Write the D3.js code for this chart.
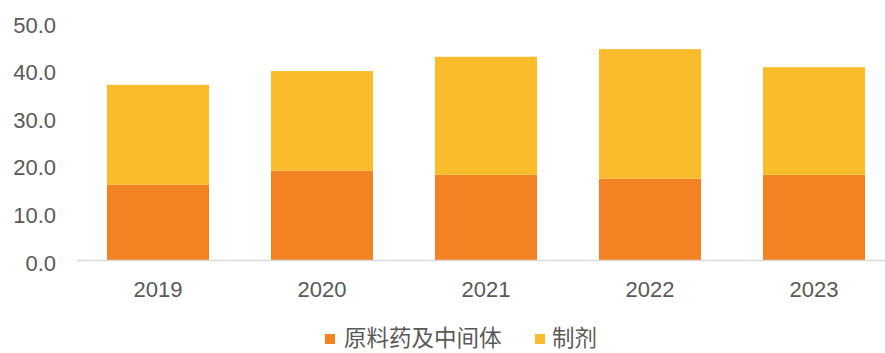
<!DOCTYPE html>
<html>
<head>
<meta charset="utf-8">
<script src="https://cdn.jsdelivr.net/npm/d3@7"></script>
<style>
  html, body { margin: 0; padding: 0; background: #fff; }
  svg { display: block; }
  text { fill: #595959; }
</style>
</head>
<body>
<svg id="chart" width="885" height="353"></svg>
<script>
// Years on the category axis
const years = ["2019", "2020", "2021", "2022", "2023"];
// 原料药及中间体 (API & intermediates)
const apiValues = [15.9, 18.9, 18.0, 17.2, 18.0];
// 制剂 (formulations)
const prepValues = [21.0, 20.9, 24.8, 27.2, 22.6];
// Series names and y tick values
const seriesNames = ["原料药及中间体", "制剂"];
const seriesColors = ["#F38322", "#FABC2A"];
const yTicks = [0, 10, 20, 30, 40, 50];

const svg = d3.select("#chart");
const numFont = "'Liberation Sans', Arial, sans-serif";
const cjkFont = "'Noto Sans CJK SC', 'Liberation Sans', sans-serif";

const x = d3.scaleBand().domain(years).range([76, 896]).paddingInner(0.378).paddingOuter(0.189);
const y = d3.scaleLinear().domain([0, 50]).range([260.5, 22.5]);

const rows = years.map((yr, i) => ({ year: yr, api: apiValues[i], prep: prepValues[i] }));
const stack = d3.stack().keys(["api", "prep"])(rows);

// Stacked bars
svg.append("g").selectAll("g")
  .data(stack)
  .join("g")
  .attr("fill", (d, i) => seriesColors[i])
  .selectAll("rect")
  .data(d => d)
  .join("rect")
  .attr("x", d => x(d.data.year))
  .attr("width", x.bandwidth())
  .attr("y", d => y(d[1]))
  .attr("height", d => y(d[0]) - y(d[1]));

// Baseline
svg.append("line")
  .attr("x1", 77).attr("x2", 885)
  .attr("y1", y(0)).attr("y2", y(0))
  .attr("stroke", "#d9d9d9").attr("stroke-width", 1.5);

// Y axis labels
const yAxis = d3.axisLeft(y).tickValues(yTicks).tickFormat(d3.format(".1f")).tickSize(0).tickPadding(0);
const gy = svg.append("g").attr("transform", "translate(56,2.5)").call(yAxis);
gy.select(".domain").remove();
gy.selectAll("text")
  .attr("font-family", numFont).attr("font-size", 22).style("fill", "#595959");

// X axis labels
const xAxis = d3.axisBottom(x).tickSize(0).tickPadding(0);
const gx = svg.append("g").attr("transform", "translate(0,281)").call(xAxis);
gx.select(".domain").remove();
gx.selectAll("text")
  .attr("font-family", numFont).attr("font-size", 22).style("fill", "#595959");

// Legend
const legendItems = [
  { name: seriesNames[0], color: seriesColors[0], sx: 325, tx: 344 },
  { name: seriesNames[1], color: seriesColors[1], sx: 535, tx: 552 }
];
const lg = svg.append("g");
lg.selectAll("rect").data(legendItems).join("rect")
  .attr("x", d => d.sx).attr("y", 334).attr("width", 10).attr("height", 10)
  .attr("fill", d => d.color);
lg.selectAll("text").data(legendItems).join("text")
  .attr("x", d => d.tx).attr("y", 346)
  .attr("font-family", cjkFont).attr("font-size", 22.5)
  .text(d => d.name);
</script>
</body>
</html>
